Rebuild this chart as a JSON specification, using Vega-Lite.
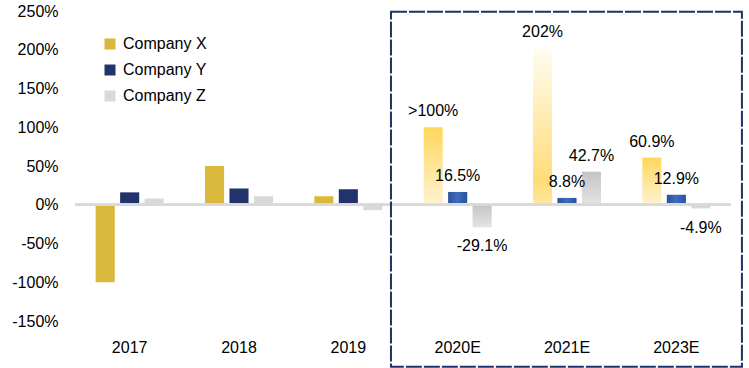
{
  "$schema": "https://vega.github.io/schema/vega-lite/v6.json",
  "autosize": {"type": "none"},
  "padding": {"left": 75, "top": 11, "right": 18, "bottom": 47},
  "width": 656,
  "height": 310,
  "background": "white",
  "config": {
    "view": {"stroke": null},
    "font": "Liberation Sans",
    "axis": {"labelFont": "Liberation Sans", "labelFontSize": 16, "labelColor": "#000000"},
    "legend": {"labelFont": "Liberation Sans", "labelFontSize": 16, "labelColor": "#000000"}
  },
  "resolve": {"scale": {"x": "independent"}, "axis": {"x": "independent"}},
  "encoding": {
    "y": {
      "field": "value", "type": "quantitative",
      "scale": {"domain": [-150, 250], "nice": false, "zero": false},
      "axis": {"title": null, "domain": false, "ticks": false, "grid": false, "labelPadding": 17,
               "labelOverlap": false,
               "values": [-150, -100, -50, 0, 50, 100, 150, 200, 250],
               "labelExpr": "datum.value + '%'"}
    }
  },
  "layer": [
    {
      "data": {
        "values": [
          {"year": "2017", "company": "Company X", "value": -100},
          {"year": "2017", "company": "Company Y", "value": 16},
          {"year": "2017", "company": "Company Z", "value": 8},
          {"year": "2018", "company": "Company X", "value": 50},
          {"year": "2018", "company": "Company Y", "value": 21},
          {"year": "2018", "company": "Company Z", "value": 11},
          {"year": "2019", "company": "Company X", "value": 11},
          {"year": "2019", "company": "Company Y", "value": 20},
          {"year": "2019", "company": "Company Z", "value": -7},
          {"year": "2020E", "company": "Company X", "value": 100, "label": ">100%"},
          {"year": "2020E", "company": "Company Y", "value": 16.5, "label": "16.5%"},
          {"year": "2020E", "company": "Company Z", "value": -29.1, "label": "-29.1%"},
          {"year": "2021E", "company": "Company X", "value": 202, "label": "202%"},
          {"year": "2021E", "company": "Company Y", "value": 8.8, "label": "8.8%"},
          {"year": "2021E", "company": "Company Z", "value": 42.7, "label": "42.7%"},
          {"year": "2023E", "company": "Company X", "value": 60.9, "label": "60.9%"},
          {"year": "2023E", "company": "Company Y", "value": 12.9, "label": "12.9%"},
          {"year": "2023E", "company": "Company Z", "value": -4.9, "label": "-4.9%"}
        ]
      },
      "encoding": {
        "x": {
          "field": "year", "type": "nominal", "sort": null,
          "scale": {"paddingInner": 0.378, "paddingOuter": 0.189},
          "axis": {"title": null, "domain": false, "ticks": false, "labelPadding": 18, "labelAngle": 0}
        }
      },
      "layer": [
        {
          "mark": {"type": "bar"},
          "encoding": {
            "xOffset": {"field": "company", "type": "nominal",
                        "scale": {"domain": ["Company X", "Company Y", "Company Z"], "paddingInner": 0.22, "paddingOuter": 0}},
            "color": {
              "field": "company", "type": "nominal",
              "scale": {"domain": ["Company X", "Company Y", "Company Z"], "range": ["#d9b83b", "#22336b", "#d9d9d9"]},
              "legend": {"title": null, "orient": "none", "legendX": 27, "legendY": 25,
                         "symbolType": "square", "symbolSize": 121, "rowPadding": 10, "symbolStrokeWidth": 0, "labelOffset": 5},
              "condition": [
                {"test": "datum.label != null && datum.year === '2021E' && datum.company === 'Company X'",
                 "value": {"gradient": "linear", "x1": 0, "y1": 0, "x2": 0, "y2": 1,
                           "stops": [{"offset": 0, "color": "#fffdf2"}, {"offset": 0.85, "color": "#ffdc78"}, {"offset": 1, "color": "#ffe6a0"}]}},
                {"test": "datum.label != null && datum.company === 'Company X'",
                 "value": {"gradient": "linear", "x1": 0, "y1": 0, "x2": 0, "y2": 1,
                           "stops": [{"offset": 0, "color": "#ffd75e"}, {"offset": 1, "color": "#fff3cf"}]}},
                {"test": "datum.label != null && datum.company === 'Company Y'",
                 "value": {"gradient": "linear", "x1": 0, "y1": 0, "x2": 1, "y2": 0,
                           "stops": [{"offset": 0, "color": "#2a5099"}, {"offset": 0.5, "color": "#3d6cc0"}, {"offset": 1, "color": "#2a5099"}]}},
                {"test": "datum.label != null && datum.company === 'Company Z'",
                 "value": {"gradient": "linear", "x1": 0, "y1": 0, "x2": 0, "y2": 1,
                           "stops": [{"offset": 0, "color": "#c4c4c4"}, {"offset": 1, "color": "#e4e4e4"}]}}
              ]
            }
          }
        },
        {
          "mark": {"type": "rule", "color": "#d9d9d9", "strokeWidth": 2},
          "encoding": {"y": {"datum": 0}, "x": null}
        },
        {
          "transform": [{"filter": "datum.label != null && datum.value >= 0"}],
          "mark": {"type": "text", "baseline": "middle", "dy": -16, "fontSize": 16, "color": "#000000"},
          "encoding": {
            "xOffset": {"field": "company", "type": "nominal"},
            "text": {"field": "label"}
          }
        },
        {
          "transform": [{"filter": "datum.label != null && datum.value < 0"}],
          "mark": {"type": "text", "baseline": "middle", "dy": 19, "fontSize": 16, "color": "#000000"},
          "encoding": {
            "xOffset": {"field": "company", "type": "nominal"},
            "text": {"field": "label"}
          }
        }
      ]
    },
    {
      "data": {"values": [{"start": 2.89, "end": 6.1, "value": 249, "bottom": -209}]},
      "mark": {"type": "rect", "filled": false, "stroke": "#203264", "strokeWidth": 2, "strokeDash": [16, 2], "clip": false},
      "encoding": {
        "x": {"field": "start", "type": "quantitative", "scale": {"domain": [0, 6], "nice": false, "zero": false}, "axis": null},
        "x2": {"field": "end"},
        "y2": {"field": "bottom"}
      }
    }
  ]
}
